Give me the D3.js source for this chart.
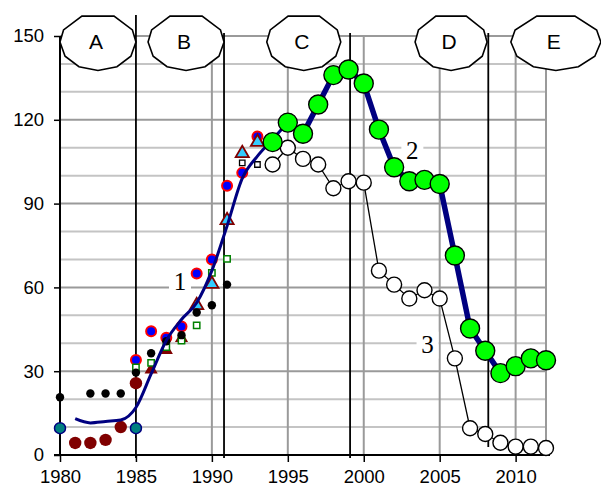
<!DOCTYPE html>
<html><head><meta charset="utf-8">
<script src="https://cdn.jsdelivr.net/npm/d3@7"></script>
<style>html,body{margin:0;padding:0;background:#fff;}svg{display:block;}</style>
</head><body>
<svg id="c" width="601" height="491"></svg>
<script>
// ---------- data ----------
const xTicks = [1980, 1985, 1990, 1995, 2000, 2005, 2010];
const yTicks = [0, 30, 60, 90, 120, 150];
const periodLabels = ["A", "B", "C", "D", "E"];
const periodCentres = [1982.5, 1988.3, 1996.05, 2005.75, 2012.65];
const periodBreaks = [1985, 1990.8, 1999.1, 2008.2];

// series 1 (thin navy curve)
const s1Years = [1981,1982,1983,1984,1985,1986,1987,1988,1989,1990,1991,1992,1993,1994,1995];
const s1Values = [13,11.5,12,12.5,17,29,41,48.5,54.5,66,82,99,107,113,119];
// series 2 (thick navy line, green circles)
const s2Years = [1994,1995,1996,1997,1998,1999,2000,2001,2002,2003,2004,2005,2006,2007,2008,2009,2010,2011,2012];
const s2Values = [112,119,115,125.5,136,138,133,116.5,103,98,98.5,97,71.4,45.3,37.3,29.3,31.8,34.6,33.9];
// series 3 (thin black line, white circles)
const s3Years = [1994,1995,1996,1997,1998,1999,2000,2001,2002,2003,2004,2005,2006,2007,2008,2009,2010,2011,2012];
const s3Values = [104,110,106,104,95.5,98,97.5,66,61,56,59,56,34.6,9.6,7.5,4.4,3,3,2.5];

// point series
const tealYears = [1980, 1985];
const tealValues = [9.6, 9.6];
const maroonYears = [1981, 1982, 1983, 1984, 1985];
const maroonValues = [4.3, 4.3, 5.4, 10, 25.7];
const blackDotYears = [1980,1982,1983,1984,1985,1986,1987,1988,1989,1990,1991];
const blackDotValues = [20.7,22,22,22,29.5,36.4,40.7,42.9,51,53.6,61];
const blueRedYears = [1985,1986,1987,1988,1989,1990,1991,1992,1993];
const blueRedValues = [34,44.3,42,46,65,70,96.4,101,114];
const greenSqYears = [1985,1986,1987,1988,1989,1990,1991];
const greenSqValues = [31.4,33,38.6,41,46.4,65.2,70.2];
const maroonTriYears = [1986,1987,1988];
const maroonTriValues = [30.5,37.5,41.8];
const cyanTriYears = [1989,1990,1991,1992,1993];
const cyanTriValues = [53.6,61.2,84,108,112];
const blackSqYears = [1992,1993];
const blackSqValues = [104.6,104];

// series number labels
const numLabels = ["1", "2", "3"];
const numLabelYears = [1987.9, 2003.2, 2004.2];
const numLabelValues = [62, 109, 39.5];

// ---------- drawing ----------
const svg = d3.select("#c");
const x = d3.scaleLinear().domain([1980, 2012]).range([60, 546]);
const y = d3.scaleLinear().domain([0, 150]).range([455, 36]);
const zip = (a, b) => a.map((v, i) => [v, b[i]]);

// horizontal gridlines
const gridY = d3.range(10, 151, 10);
svg.append("g").selectAll("line").data(gridY).join("line")
  .attr("x1", x(1980)).attr("x2", x(2012))
  .attr("y1", d => y(d)).attr("y2", d => y(d))
  .attr("stroke", d => d % 30 === 0 ? "#9a9a9a" : "#c4c4c4")
  .attr("stroke-width", 2);
// vertical gridlines
const gridX = [1990, 1995, 2000, 2005, 2010, 2012];
svg.append("g").selectAll("line").data(gridX).join("line")
  .attr("x1", d => x(d)).attr("x2", d => x(d))
  .attr("y1", y(150)).attr("y2", y(0))
  .attr("stroke", "#9a9a9a").attr("stroke-width", 2);

// period dividers
svg.append("g").selectAll("line").data(periodBreaks).join("line")
  .attr("x1", d => x(d)).attr("x2", d => x(d))
  .attr("y1", (d, i) => i === 0 ? 15 : 33)
  .attr("y2", (d, i) => i === 3 ? 447 : 458)
  .attr("stroke", "#000").attr("stroke-width", 1.8);

// axes
const xAxis = d3.axisBottom(x).tickValues(xTicks).tickFormat(d3.format("d")).tickSize(7).tickPadding(8);
const gx = svg.append("g").attr("transform", `translate(0,${y(0)})`).call(xAxis);
gx.select(".domain").attr("d", `M${x(1980) - 6},0H${x(2012) + 4}`).attr("stroke-width", 2);
gx.selectAll(".tick line").attr("stroke-width", 1.5);
gx.selectAll("text").attr("font-family", "'Liberation Sans', Arial, sans-serif").attr("font-size", 18.5).attr("fill", "#000");

const yAxis = d3.axisLeft(y).tickValues(yTicks).tickSize(6).tickPadding(10);
const gy = svg.append("g").attr("transform", `translate(${x(1980)},0)`).call(yAxis);
gy.select(".domain").attr("d", `M0,${y(150)}V${y(0)}`).attr("stroke-width", 2);
gy.selectAll(".tick line").attr("stroke-width", 1.5);
gy.selectAll("text").attr("font-family", "'Liberation Sans', Arial, sans-serif").attr("font-size", 18.5).attr("fill", "#000");

// period ellipses (polygonal)
const angs = [0, 30, 60, 90, 120, 150, 180, 205, 245, 295, 335].map(a => a * Math.PI / 180);
const rxs = [38, 38, 37, 36, 45];
const gE = svg.append("g");
periodLabels.forEach((lab, i) => {
  const cx = x(periodCentres[i]), cy = 42, rx = rxs[i], ry = 28.5;
  const pts = angs.map(a => [cx + rx * Math.cos(a), cy + ry * Math.sin(a)]);
  gE.append("path").attr("d", d3.line()(pts) + "Z")
    .attr("fill", "#fff").attr("stroke", "#000").attr("stroke-width", 1.6);
  gE.append("text").attr("x", cx - 2).attr("y", 49).attr("text-anchor", "middle")
    .attr("font-family", "'Liberation Sans', Arial, sans-serif").attr("font-size", 21).text(lab);
});

// number labels with white boxes
numLabels.forEach((lab, i) => {
  const cx = x(numLabelYears[i]), cy = y(numLabelValues[i]);
  svg.append("rect").attr("x", cx - 11).attr("y", cy - 13).attr("width", 22).attr("height", 27).attr("fill", "#fff");
  svg.append("text").attr("x", cx).attr("y", cy + 8).attr("text-anchor", "middle")
    .attr("font-family", "'Liberation Serif', 'Times New Roman', serif").attr("font-size", 25).text(lab);
});

// small point series
const pts = (ys, vs) => zip(ys, vs);
svg.append("g").selectAll("circle").data(pts(tealYears, tealValues)).join("circle")
  .attr("cx", d => x(d[0])).attr("cy", d => y(d[1])).attr("r", 5.5)
  .attr("fill", "#008080").attr("stroke", "#000080").attr("stroke-width", 1.5);
svg.append("g").selectAll("circle").data(pts(maroonYears, maroonValues)).join("circle")
  .attr("cx", d => x(d[0])).attr("cy", d => y(d[1])).attr("r", 6.2).attr("fill", "#800000");
svg.append("g").selectAll("path").data(pts(maroonTriYears, maroonTriValues)).join("path")
  .attr("transform", d => `translate(${x(d[0])},${y(d[1])})`)
  .attr("d", d3.symbol(d3.symbolTriangle, 75)).attr("fill", "#800000");
svg.append("g").selectAll("circle").data(pts(blueRedYears, blueRedValues)).join("circle")
  .attr("cx", d => x(d[0])).attr("cy", d => y(d[1])).attr("r", 5)
  .attr("fill", "#0000ff").attr("stroke", "#ff0000").attr("stroke-width", 2);
svg.append("g").selectAll("path").data(pts(greenSqYears, greenSqValues)).join("path")
  .attr("transform", d => `translate(${x(d[0])},${y(d[1])})`)
  .attr("d", d3.symbol(d3.symbolSquare, 40)).attr("fill", "#fff").attr("stroke", "#008000").attr("stroke-width", 1.5);
svg.append("g").selectAll("path").data(pts(cyanTriYears, cyanTriValues)).join("path")
  .attr("transform", d => `translate(${x(d[0])},${y(d[1])})`)
  .attr("d", d3.symbol(d3.symbolTriangle, 75)).attr("fill", "#33ccff").attr("stroke", "#800000").attr("stroke-width", 1.8);
svg.append("g").selectAll("path").data(pts(blackSqYears, blackSqValues)).join("path")
  .attr("transform", d => `translate(${x(d[0])},${y(d[1])})`)
  .attr("d", d3.symbol(d3.symbolSquare, 30)).attr("fill", "#fff").attr("stroke", "#000").attr("stroke-width", 1.3);
svg.append("g").selectAll("circle").data(pts(blackDotYears, blackDotValues)).join("circle")
  .attr("cx", d => x(d[0])).attr("cy", d => y(d[1])).attr("r", 4.2).attr("fill", "#000");

// series 1 thin navy curve
svg.append("path").datum(zip(s1Years, s1Values))
  .attr("d", d3.line().x(d => x(d[0])).y(d => y(d[1])).curve(d3.curveMonotoneX))
  .attr("fill", "none").attr("stroke", "#000080").attr("stroke-width", 3);

// series 3 line + white circles
svg.append("path").datum(zip(s3Years, s3Values))
  .attr("d", d3.line().x(d => x(d[0])).y(d => y(d[1])))
  .attr("fill", "none").attr("stroke", "#000").attr("stroke-width", 1.3);
svg.append("g").selectAll("circle").data(zip(s3Years, s3Values)).join("circle")
  .attr("cx", d => x(d[0])).attr("cy", d => y(d[1])).attr("r", 7.5)
  .attr("fill", "#fff").attr("stroke", "#000").attr("stroke-width", 1.4);

// series 2 thick line + green circles
svg.append("path").datum(zip(s2Years.slice(1), s2Values.slice(1)))
  .attr("d", d3.line().x(d => x(d[0])).y(d => y(d[1])))
  .attr("fill", "none").attr("stroke", "#000080").attr("stroke-width", 5.5);
svg.append("g").selectAll("circle").data(zip(s2Years, s2Values)).join("circle")
  .attr("cx", d => x(d[0])).attr("cy", d => y(d[1])).attr("r", 9.5)
  .attr("fill", "#00ff00").attr("stroke", "#000").attr("stroke-width", 1.4);
</script>
</body></html>
